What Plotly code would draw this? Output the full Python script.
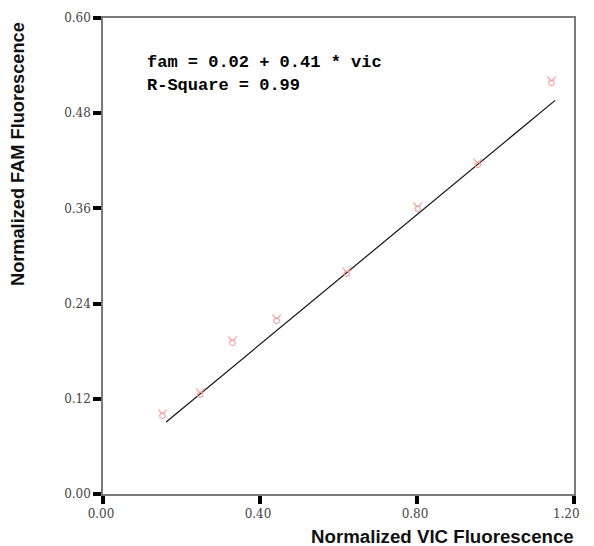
import plotly.graph_objects as go

# Data
vic = [0.152, 0.248, 0.330, 0.443, 0.621, 0.802, 0.955, 1.143]
fam = [0.099, 0.125, 0.191, 0.218, 0.278, 0.360, 0.415, 0.518]

# Fitted line (as drawn in the reference)
fit_intercept = 0.025
fit_slope = 0.409
fit_x = [0.161, 1.152]
fit_y = [fit_intercept + fit_slope * v for v in fit_x]

x_ticks = [0.0, 0.4, 0.8, 1.2]
x_tick_labels = ["0.00", "0.40", "0.80", "1.20"]
y_ticks = [0.0, 0.12, 0.24, 0.36, 0.48, 0.60]

eq_lines = ["fam = 0.02 + 0.41 * vic", "R-Square = 0.99"]

fig = go.Figure()
fig.add_trace(go.Scatter(
    x=fit_x, y=fit_y, mode="lines",
    line=dict(color="#111111", width=1.2),
    showlegend=False, hoverinfo="skip",
))
fig.add_trace(go.Scatter(
    x=vic, y=fam, mode="text", text=["\u2649"] * len(vic),
    textposition="middle center",
    textfont=dict(family="DejaVu Sans", size=13, color="#f29a9a"),
    showlegend=False,
))

axis_common = dict(
    showgrid=False, zeroline=False,
    showline=True, linecolor="#7a7a7a", linewidth=1.5, mirror=True,
    ticks="outside", ticklen=8, tickwidth=4, tickcolor="#000000",
    tickfont=dict(family="DejaVu Serif", size=12, color="#444444"),
    ticklabeloverflow="allow",
)
# keep the last x label inside the page edge, as in the reference
x_text = x_tick_labels[:-1] + [x_tick_labels[-1] + "\u00a0\u00a0\u00a0"]
fig.update_xaxes(range=[0, 1.2], tickvals=x_ticks, ticktext=x_text,
                 ticklabelshift=-2, **axis_common)
fig.update_yaxes(range=[0, 0.6], tickvals=y_ticks, tickformat=".2f", **axis_common)

fig.add_annotation(
    xref="paper", yref="paper", x=1.0, xshift=2, y=0, yshift=-30,
    xanchor="right", yanchor="top", showarrow=False,
    text="<b>Normalized VIC Fluorescence</b>",
    font=dict(family="Liberation Sans", size=18.7, color="#111111"),
)
fig.add_annotation(
    xref="paper", yref="paper", x=0, xshift=-85, y=1.0, yshift=-2,
    xanchor="center", yanchor="top", showarrow=False, textangle=-90,
    text="<b>Normalized FAM Fluorescence</b>",
    font=dict(family="Liberation Sans", size=18.2, color="#111111"),
)
for i, line in enumerate(eq_lines):
    fig.add_annotation(
        xref="paper", yref="paper", x=0, xshift=42, y=1.0, yshift=-33 - 23 * i,
        xanchor="left", yanchor="top", showarrow=False, align="left",
        text="<b>" + line + "</b>",
        font=dict(family="Liberation Mono", size=17, color="#000000"),
    )

# page body has an 8px margin; size the figure so the plot area lands where the reference has it
fig.update_layout(
    width=586, height=538,
    margin=dict(l=95, r=10, t=3, b=52),
    paper_bgcolor="white", plot_bgcolor="white",
)

fig.write_html("out.html")
